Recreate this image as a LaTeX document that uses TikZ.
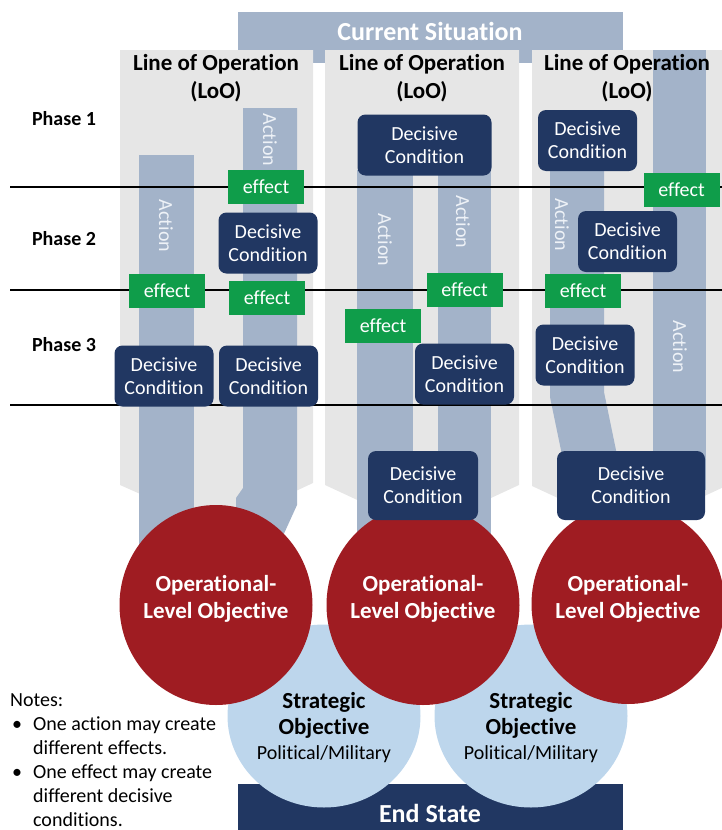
\documentclass[tikz,border=0pt]{standalone}
\usepackage{fontspec}
\setmainfont{Carlito}[RawFeature={-liga}]
\usetikzlibrary{shapes.geometric}

\definecolor{steel}{HTML}{A3B3C9}
\definecolor{loogray}{HTML}{E6E6E6}
\definecolor{navy}{HTML}{213762}
\definecolor{effgreen}{HTML}{0F9D4A}
\definecolor{objred}{HTML}{9F1C22}
\definecolor{stratblue}{HTML}{BDD6EC}
\definecolor{acttext}{HTML}{EEF2F7}

\tikzset{
  loo/.style={fill=loogray},
  actbar/.style={fill=steel},
  phaseline/.style={line width=1.6pt, black},
  dcbox/.style={fill=navy, rounded corners=8pt, text=white, align=center,
    inner sep=0pt, minimum width=99pt, minimum height=61pt,
    font=\fontsize{20}{23}\selectfont},
  effbox/.style={fill=effgreen, text=white, inner sep=0pt,
    minimum width=76pt, minimum height=34pt, font=\fontsize{20}{23}\selectfont},
  actlbl/.style={rotate=-90, text=acttext, inner sep=0pt,
    font=\fontsize{20}{23}\selectfont},
  header/.style={align=center, inner sep=0pt,
    font=\bfseries\fontsize{23}{28}\selectfont},
  phaselbl/.style={inner sep=0pt, font=\bfseries\fontsize{20}{24}\selectfont},
  opobj/.style={ellipse, fill=objred, inner sep=0pt,
    minimum width=193pt, minimum height=200pt},
  optext/.style={align=center, text=white, inner sep=0pt,
    font=\bfseries\fontsize{23}{27}\selectfont},
  stobj/.style={ellipse, fill=stratblue, inner sep=0pt,
    minimum width=193pt, minimum height=183pt},
  sttitle/.style={align=center, inner sep=0pt,
    font=\bfseries\fontsize{23}{26}\selectfont},
  stsub/.style={inner sep=0pt, font=\fontsize{20}{24}\selectfont},
  banner/.style={text=white, inner sep=0pt, font=\bfseries\fontsize{26}{30}\selectfont},
  notes/.style={align=left, inner sep=0pt, font=\fontsize{20}{24}\selectfont}
}

\begin{document}
\begin{tikzpicture}[x=1pt,y=-1pt]
\useasboundingbox (0,0) rectangle (722,830);

% Current situation banner (behind the lines of operation)
\fill[steel] (238,12) rectangle (623,63);
\node[banner] (cs) at (430,31) {Current Situation};

% End state banner
\fill[navy] (238,784) rectangle (623,830);

% Lines of operation: gray columns with chevron bottoms
\fill[loo] (120,50) -- (313,50) -- (313,483) -- (216.5,528) -- (120,485) -- cycle;
\fill[loo] (325,50) -- (519,50) -- (519,485) -- (422,530) -- (325,485) -- cycle;
\fill[loo] (532,50) -- (726,50) -- (726,486) -- (629,531) -- (532,486) -- cycle;

% Action bars
\fill[actbar] (139,155) rectangle (194,580);
\fill[actbar] (243,108) -- (297,108) -- (297,505) -- (272,560) -- (236,560)
  -- (236,498) -- (243,488) -- cycle;
\fill[actbar] (357,170) rectangle (413,580);
\fill[actbar] (438,170) rectangle (491,580);
\fill[actbar] (550,170) -- (604,170) -- (604,392) -- (617,455) -- (562,455)
  -- (550,397) -- cycle;
\fill[actbar] (653,50) rectangle (706,490);

% Action labels
\node[actlbl] (a1) at (166,226) {Action};
\node[actlbl] (a2) at (270,140) {Action};
\node[actlbl] (a3) at (385,240) {Action};
\node[actlbl] (a4) at (463,222) {Action};
\node[actlbl] (a5) at (562,225) {Action};
\node[actlbl] (a6) at (680,347) {Action};

% Phase separators
\draw[phaseline] (10,187) -- (722,187);
\draw[phaseline] (10,290) -- (722,290);
\draw[phaseline] (10,405) -- (722,405);

% Phase labels
\node[phaselbl] (p1) at (64,119) {Phase 1};
\node[phaselbl] (p2) at (64,239) {Phase 2};
\node[phaselbl] (p3) at (64,345) {Phase 3};

% Column headers
\node[header] (h1) at (216,78) {Line of Operation\\(LoO)};
\node[header] (h2) at (422,78) {Line of Operation\\(LoO)};
\node[header] (h3) at (627,78) {Line of Operation\\(LoO)};

% Strategic objectives
\node[stobj] (so1) at (324,716) {};
\node[stobj] (so2) at (531,716) {};
\node[sttitle] (so1t) at (324,715) {Strategic\\Objective};
\node[sttitle] (so2t) at (531,715) {Strategic\\Objective};
\node[stsub] (so1s) at (324,754) {Political/Military};
\node[stsub] (so2s) at (531,754) {Political/Military};

% Operational-level objectives
\node[opobj] (op1) at (216,605) {};
\node[opobj] (op2) at (423,605) {};
\node[opobj] (op3) at (628,604) {};
\node[optext] (op1t) at (216,599) {Operational-\\Level Objective};
\node[optext] (op2t) at (423,599) {Operational-\\Level Objective};
\node[optext] (op3t) at (628,599) {Operational-\\Level Objective};

% End state label
\node[banner] (es) at (430,813) {End State};

% Decisive conditions
\node[dcbox] (d11) at (268,243) {Decisive\\Condition};
\node[dcbox] (d12) at (164,376) {Decisive\\Condition};
\node[dcbox] (d13) at (268.5,376) {Decisive\\Condition};
\node[dcbox, minimum width=134pt] (d21) at (424.5,145) {Decisive\\Condition};
\node[dcbox] (d22) at (464.5,374) {Decisive\\Condition};
\node[dcbox, minimum width=110pt, minimum height=69pt] (d23) at (423,485.5) {Decisive\\Condition};
\node[dcbox] (d31) at (587.5,140.5) {Decisive\\Condition};
\node[dcbox] (d32) at (627.5,241.5) {Decisive\\Condition};
\node[dcbox] (d33) at (585,355) {Decisive\\Condition};
\node[dcbox, minimum width=148pt, minimum height=69pt] (d34) at (631,485.5) {Decisive\\Condition};

% Effects
\node[effbox] (e1) at (266,187) {effect};
\node[effbox] (e2) at (167,291) {effect};
\node[effbox] (e3) at (267,298) {effect};
\node[effbox] (e4) at (383,326) {effect};
\node[effbox] (e5) at (464.5,290) {effect};
\node[effbox] (e6) at (583,291) {effect};
\node[effbox] (e7) at (681.5,190) {effect};

% Notes
\node[notes, anchor=north west] (notes) at (10,693) {Notes:\\
\makebox[23pt][l]{\hspace{2pt}•}One action may create\\
\hspace*{23pt}different effects.\\
\makebox[23pt][l]{\hspace{2pt}•}One effect may create\\
\hspace*{23pt}different decisive\\
\hspace*{23pt}conditions.};
\end{tikzpicture}
\end{document}
